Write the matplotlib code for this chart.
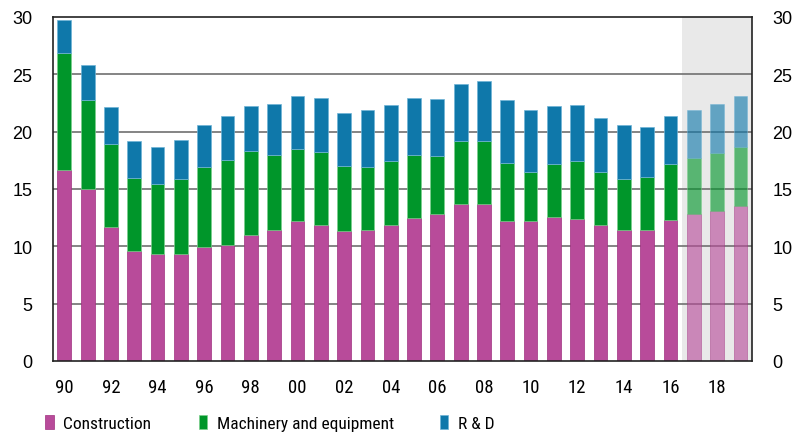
import numpy as np
import matplotlib
matplotlib.use('Agg')
import matplotlib.pyplot as plt
from matplotlib.patches import Patch
from matplotlib import font_manager as fm

years = list(range(1990, 2020))
construction = [16.7, 15.0, 11.7, 9.6, 9.3, 9.3, 9.9, 10.1, 11.0, 11.4,
                12.2, 11.9, 11.3, 11.4, 11.9, 12.5, 12.8, 13.7, 13.7, 12.2,
                12.2, 12.6, 12.4, 11.9, 11.4, 11.4, 12.3, 12.8, 13.1, 13.5]
machinery = [10.15, 7.8, 7.2, 6.35, 6.1, 6.6, 7.05, 7.45, 7.3, 6.6,
             6.3, 6.35, 5.7, 5.5, 5.5, 5.45, 5.05, 5.5, 5.5, 5.1,
             4.3, 4.6, 5.05, 4.6, 4.5, 4.65, 4.85, 4.9, 5.05, 5.2]
rnd = [2.85, 3.05, 3.25, 3.2, 3.25, 3.4, 3.6, 3.8, 3.95, 4.4,
       4.6, 4.7, 4.65, 4.95, 4.9, 5.0, 5.0, 5.0, 5.2, 5.45,
       5.35, 5.05, 4.85, 4.7, 4.65, 4.35, 4.25, 4.2, 4.3, 4.45]
tick_labels = ['90', '92', '94', '96', '98', '00', '02', '04', '06', '08',
               '10', '12', '14', '16', '18']
legend_labels = ['Construction', 'Machinery and equipment', 'R & D']
n_forecast = 3

c_con = '#b84b9a'
c_mach = '#00962a'
c_rnd = '#0f78aa'

plt.rcParams['font.family'] = ['Liberation Sans', 'DejaVu Sans']

# look for a condensed sans face for x labels and legend
narrow_file = None
for f in fm.fontManager.ttflist:
    if f.style != 'normal' or f.weight not in (400, 'normal', 'regular'):
        continue
    if 'Narrow' in f.name or 'Condensed' in f.name or f.stretch in ('condensed', 'semi-condensed'):
        if 'Mono' in f.name or 'Serif' in f.name:
            continue
        narrow_file = f.fname
        if 'Liberation' in f.name:
            break
if narrow_file:
    xfp = fm.FontProperties(fname=narrow_file, size=13.5)
    lfp = fm.FontProperties(fname=narrow_file, size=12.5)
else:
    xfp = fm.FontProperties(family='Liberation Sans', size=12)
    lfp = fm.FontProperties(family='Liberation Sans', size=11.5)

fig = plt.figure(figsize=(7.95, 4.39), dpi=100)
ax = fig.add_axes([0.0663, 0.1754, 0.8797, 0.7836])

x = np.arange(len(years))
con = np.array(construction)
mac = np.array(machinery)
rd = np.array(rnd)
nh = len(years) - n_forecast

ax.axvspan(nh - 0.5, len(years) - 0.5, color='#e9e9e9', zorder=0, lw=0)
for v in [5, 10, 15, 20, 25]:
    ax.axhline(v, color='#707070', lw=1.2, zorder=1)

w = 0.59
for sl, a in [(slice(0, nh), 1.0), (slice(nh, None), 0.62)]:
    ax.bar(x[sl], con[sl], w, color=c_con, alpha=a, edgecolor='#a0307f', lw=0.5, zorder=2)
    ax.bar(x[sl], mac[sl], w, bottom=con[sl], color=c_mach, alpha=a,
           edgecolor='#7ccf8c', lw=0.5, zorder=2)
    ax.bar(x[sl], rd[sl], w, bottom=con[sl] + mac[sl], color=c_rnd, alpha=a,
           edgecolor='#6fb3d6', lw=0.5, zorder=2)

ax.set_xlim(-0.5, len(years) - 0.5)
ax.set_ylim(0, 30)
ax.set_yticks(range(0, 31, 5))
ax.set_xticks(x[::2])
ax.set_xticklabels(tick_labels, fontproperties=xfp)
ax.tick_params(axis='x', length=0, pad=12)
ax.tick_params(axis='y', length=0, labelsize=13, right=True, labelright=True)
for tk in ax.yaxis.get_major_ticks():
    tk.set_pad(14.5)
    tk.label1.set_horizontalalignment('right')
    tk.label2.set_horizontalalignment('left')

for s in ax.spines.values():
    s.set_color('#222222')
    s.set_linewidth(1.2)
    s.set_zorder(3)

handles = [Patch(facecolor=c_con, edgecolor='#a0307f', lw=0.5),
           Patch(facecolor=c_mach, edgecolor='#7ccf8c', lw=0.5),
           Patch(facecolor=c_rnd, edgecolor='#6fb3d6', lw=0.5)]
leg_x = [0.0566, 0.250, 0.553]
for h, lab, lx in zip(handles, legend_labels, leg_x):
    fig.legend(handles=[h], labels=[lab], loc='center left', bbox_to_anchor=(lx, 0.034),
               frameon=False, prop=lfp, borderaxespad=0,
               borderpad=0, handlelength=0.5, handleheight=0.85, handletextpad=0.55)

fig.savefig('out.png', dpi=100)
